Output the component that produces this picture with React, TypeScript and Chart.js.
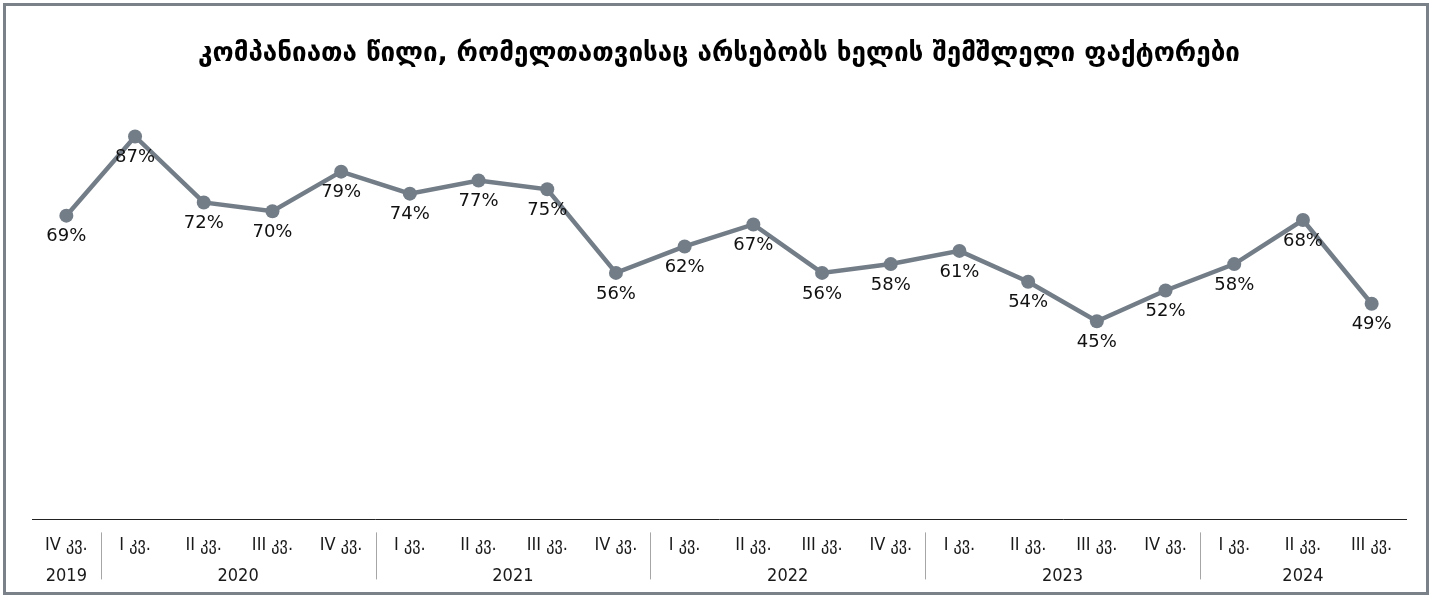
import React, { useEffect, useRef } from "react";
import { Chart, registerables } from "chart.js";

Chart.register(...registerables);

const TITLE = "კომპანიათა წილი, რომელთათვისაც არსებობს ხელის შემშლელი ფაქტორები";
const quarterLabels = [
  "IV კვ.",
  "I კვ.", "II კვ.", "III კვ.", "IV კვ.",
  "I კვ.", "II კვ.", "III კვ.", "IV კვ.",
  "I კვ.", "II კვ.", "III კვ.", "IV კვ.",
  "I კვ.", "II კვ.", "III კვ.", "IV კვ.",
  "I კვ.", "II კვ.", "III კვ.",
];
const years = ["2019", "2020", "2021", "2022", "2023", "2024"];
const yearCounts = [1, 4, 4, 4, 4, 3];
const values = [69, 87, 72, 70, 79, 74, 77, 75, 56, 62, 67, 56, 58, 61, 54, 45, 52, 58, 68, 49];

const LINE_COLOR = "#737d88";
const TICK_FONT = "'Liberation Sans Narrow', 'DejaVu Sans Condensed', 'DejaVu Sans', sans-serif";

const extrasPlugin = {
  id: "extras",
  afterDatasetsDraw(chart: any) {
    const ctx = chart.ctx;
    const meta = chart.getDatasetMeta(0);
    ctx.save();
    ctx.font = "18px 'DejaVu Sans', sans-serif";
    ctx.fillStyle = "#111111";
    ctx.textAlign = "center";
    ctx.textBaseline = "middle";
    meta.data.forEach((pt: any, i: number) => {
      ctx.fillText(values[i] + "%", pt.x, pt.y + 21);
    });
    ctx.restore();
  },
  afterDraw(chart: any) {
    const ctx = chart.ctx;
    const x = chart.scales.x;
    ctx.save();
    ctx.font = "18px " + TICK_FONT;
    ctx.fillStyle = "#1a1a1a";
    ctx.textAlign = "center";
    ctx.textBaseline = "middle";
    let start = 0;
    years.forEach((yr, gi) => {
      const end = start + yearCounts[gi] - 1;
      const cx = (x.getPixelForValue(start) + x.getPixelForValue(end)) / 2;
      ctx.fillText(yr, cx, x.top + 57);
      if (gi < years.length - 1) {
        const sx = Math.round((x.getPixelForValue(end) + x.getPixelForValue(end + 1)) / 2) + 0.5;
        ctx.strokeStyle = "#a6a6a6";
        ctx.lineWidth = 1;
        ctx.beginPath();
        ctx.moveTo(sx, x.top + 13);
        ctx.lineTo(sx, x.top + 60);
        ctx.stroke();
      }
      start = end + 1;
    });
    ctx.restore();
  },
};

export default function App() {
  const ref = useRef<HTMLCanvasElement>(null);
  useEffect(() => {
    if (!ref.current) return;
    const chart = new Chart(ref.current, {
      type: "line",
      data: {
        labels: quarterLabels,
        datasets: [
          {
            data: values,
            borderColor: LINE_COLOR,
            backgroundColor: LINE_COLOR,
            borderWidth: 4.5,
            pointRadius: 7,
            pointHoverRadius: 7,
            pointBackgroundColor: LINE_COLOR,
            pointBorderWidth: 0,
            tension: 0,
          },
        ],
      },
      options: {
        animation: false,
        responsive: true,
        maintainAspectRatio: false,
        layout: { padding: { left: 26, right: 20, top: 0, bottom: 21 } },
        plugins: {
          legend: { display: false },
          tooltip: { enabled: false },
          title: {
            display: true,
            text: TITLE,
            color: "#000000",
            font: { family: "'DejaVu Sans', sans-serif", size: 26, weight: "bold" },
            padding: { top: 33, bottom: 9 },
          },
        },
        scales: {
          x: {
            offset: true,
            grid: { display: false, drawTicks: false },
            border: { display: true, color: "#222222", width: 1 },
            ticks: {
              color: "#1a1a1a",
              font: { family: TICK_FONT, size: 18 },
              padding: 15,
              maxRotation: 0,
              autoSkip: false,
            },
          },
          y: { display: false, min: 0, max: 100 },
        },
      },
      plugins: [extrasPlugin],
    });
    return () => chart.destroy();
  }, []);
  return (
    <div
      style={{
        position: "fixed",
        left: 3,
        top: 3,
        width: 1426,
        height: 592,
        border: "3px solid #7b8188",
        boxSizing: "border-box",
        background: "#ffffff",
      }}
    >
      <canvas ref={ref} style={{ display: "block", width: "100%", height: "100%" }} />
    </div>
  );
}
